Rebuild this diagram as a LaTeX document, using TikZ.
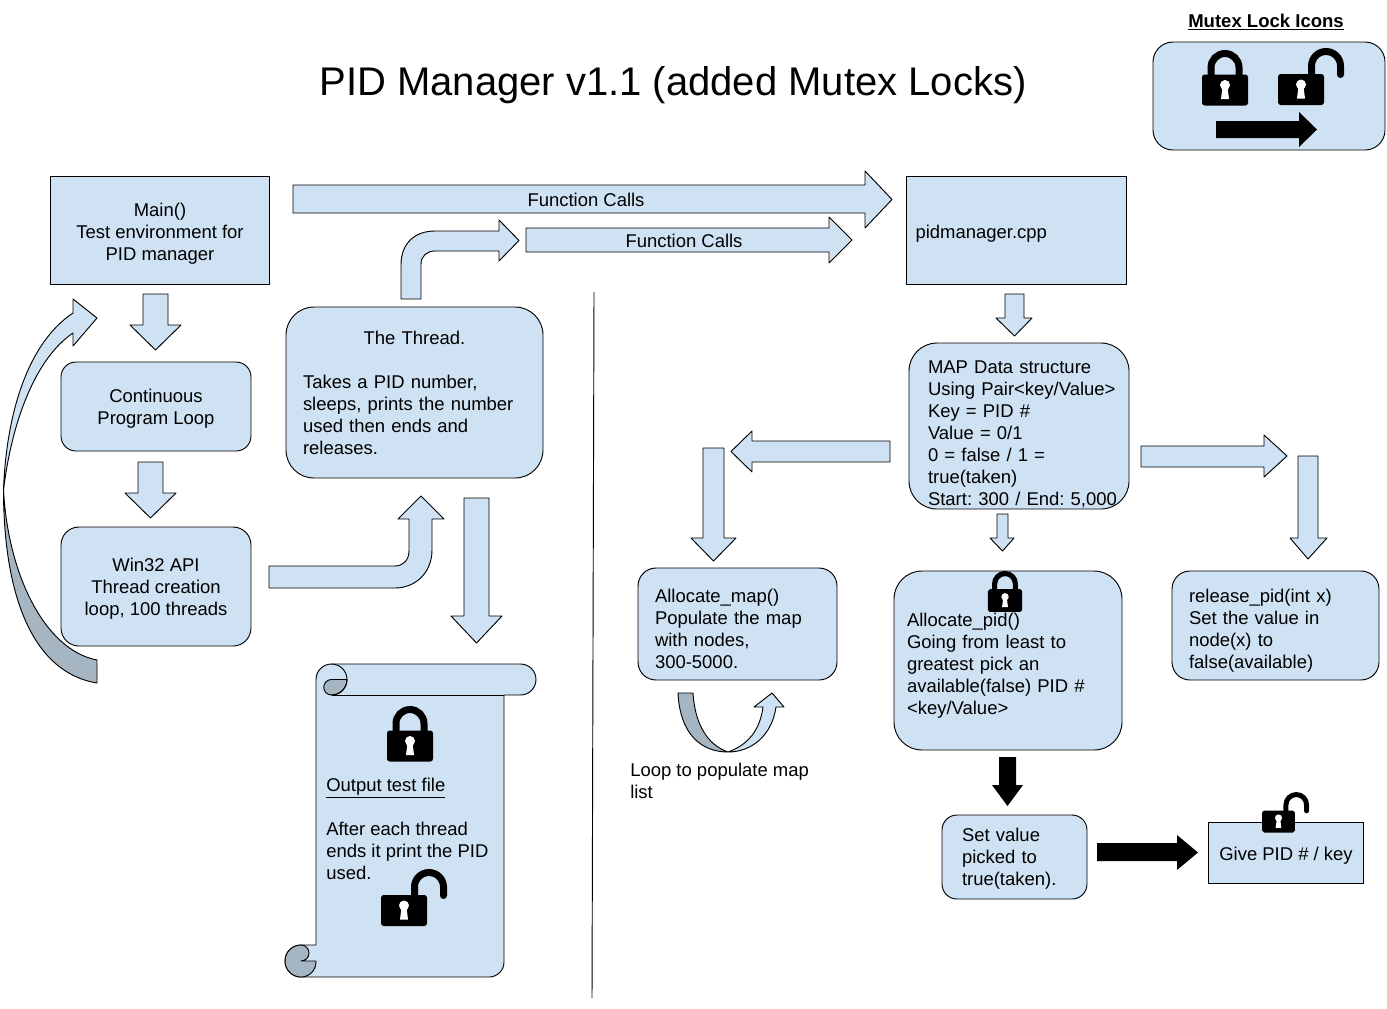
\documentclass[tikz,border=0pt]{standalone}
\usepackage{fontspec}
\setmainfont{Liberation Sans}
\frenchspacing
\definecolor{boxblue}{HTML}{CFE2F3}
\definecolor{darkblue}{HTML}{A6B5C2}
\newcommand{\lockkey}{%
  \fill[white] (0,-5) circle (5);
  \fill[white] (-2.5,-3) -- (2.5,-3) -- (4,9) -- (-4,9) -- cycle;}
\newcommand{\closedlock}[3]{%
 \begin{scope}[shift={(#1,#2)},scale=#3]
  \draw[black,line width={#3*5.25pt}] (-14,-12) -- (-14,-22.5) arc (180:360:14) -- (14,-12);
  \fill[black,rounded corners={#3*2pt}] (-23,-15.5) rectangle (23,15.5);
  \lockkey
 \end{scope}}
\newcommand{\openlock}[3]{%
 \begin{scope}[shift={(#1,#2)},scale=#3]
  \draw[black,line width={#3*5.25pt},line cap=round] (10.5,-10) -- (10.5,-23.5) arc (180:360:14.5) -- (39.5,-15);
  \fill[black,rounded corners={#3*2pt}] (-23,-15.5) rectangle (23,15.5);
  \lockkey
 \end{scope}}
\tikzset{
  x=0.75pt,y=-0.75pt,
  every node/.style={font=\fontsize{13.85}{16.5}\selectfont,text=black,inner sep=0pt},
  box/.style n args={2}{draw=black,fill=boxblue,line width=0.7pt,minimum width={#1*0.75pt},minimum height={#2*0.75pt}},
  rbox/.style n args={3}{box={#1}{#2},rounded corners={#3*0.75pt}},
  shape line/.style={draw=black,line width=0.7pt,line join=round},
  blockarrow/.style={shape line,fill=boxblue},
  blackarrow/.style={fill=black},
  darkshape/.style={shape line,fill=darkblue},
  plain/.style={align=left},
}
\newcommand{\up}[1]{\rule{0pt}{#1pt}}
\begin{document}
\begin{tikzpicture}
\useasboundingbox (0,0) rectangle (1387,1008);
\fill[white] (0,0) rectangle (1387,1008);

% title and legend
\node (title) at (673,85) {\fontsize{30}{36}\selectfont PID Manager v1.1 (added Mutex Locks)};
\node[font=\fontsize{13.9}{16.5}\selectfont\bfseries] (legendtitle) at (1266,22) {\underline{Mutex Lock Icons}};
\node[rbox={232}{108}{20}] (legend) at (1269,96) {};
\closedlock{1225}{90}{1}
\openlock{1301}{89.5}{1}
\fill[blackarrow] (1216,121) -- (1299,121) -- (1299,112) -- (1317,129.5) -- (1299,147) -- (1299,138) -- (1216,138) -- cycle;

% divider
\draw[black,line width=0.7pt] (594,292) -- (592,998);

% block arrows: top
\draw[blockarrow] (293,185) -- (865,185) -- (865,171) -- (892,199.5) -- (865,228) -- (865,213) -- (293,213) -- cycle;
\node (fc1) at (586,199.5) {Function Calls};
\draw[blockarrow] (526,228) -- (829,228) -- (829,217) -- (852,240) -- (829,263) -- (829,252) -- (526,252) -- cycle;
\node (fc2) at (684,240.5) {Function Calls};

% left column boxes
\node[box={219}{108},align=center] (main) at (160,230.5) {\up{14.5}Main()\\Test environment for\\PID manager};
\node[rbox={190}{89}{15},align=center] (loop) at (156,406.5) {\up{13}Continuous\\Program Loop};
\node[rbox={190}{119}{18},align=center] (win) at (156,586.5) {\up{13}Win32 API\\Thread creation\\loop, 100 threads};
\node[rbox={257}{171}{28},align=left,text width={223*0.75pt}] (thread) at (414.5,392.5) {\makebox[\linewidth][c]{The Thread.}\\\mbox{}\\Takes a PID number,\\sleeps, prints the number\\used then ends and\\releases.};

% left column arrows
\draw[blockarrow] (143,294) -- (168,294) -- (168,325) -- (181,325) -- (155.5,350) -- (130,325) -- (143,325) -- cycle;
\draw[blockarrow] (138,462) -- (163,462) -- (163,493) -- (176,493) -- (150.5,518) -- (125,493) -- (138,493) -- cycle;
\draw[blockarrow] (401,299) -- (401,265) .. controls (401,243) and (415,231) .. (435,231) -- (499,231) -- (499,220) -- (519,240.5) -- (499,261) -- (499,251) -- (435,251) .. controls (427,251) and (421,256) .. (421,264) -- (421,299) -- cycle;
\draw[blockarrow] (269,566) -- (395,566) .. controls (403,566) and (409,560) .. (409,551) -- (409,519) -- (398,519) -- (421,496) -- (444,519) -- (432,519) -- (432,550) .. controls (432,573) and (415,588) .. (395,588) -- (269,588) -- cycle;
\draw[blockarrow] (464,498) -- (489,498) -- (489,616) -- (502,616) -- (476.5,643) -- (451,616) -- (464,616) -- cycle;

% curved return arrow
\draw[blockarrow] (3.5,490) .. controls (6,420) and (25,345) .. (73,313) -- (73,299) -- (97,318) -- (73,346) -- (73,333) .. controls (36,358) and (12,420) .. (3.5,490) -- cycle;
\draw[darkshape] (3.5,490) .. controls (3.5,590) and (30,672) .. (97,683) -- (97,660) .. controls (45,650) and (8,575) .. (3.5,490) -- cycle;

% scroll
\draw[blockarrow] (316,679.5) arc (180:270:15.5) -- (520.5,664) arc (270:450:15.5) -- (504,695) -- (504,962) arc (0:90:15) -- (301,977) arc (90:270:16) -- (316,945) -- cycle;
\draw[shape line] (504,695) -- (331.5,695);
\draw[darkshape] (347,679.5) -- (331.5,679.5) arc (270:90:7.75) -- (331.5,695) arc (90:0:15.5) -- cycle;
\draw[shape line] (331.5,664) arc (270:450:15.5);
\draw[darkshape] (301,945) arc (270:90:16) arc (90:0:15) -- (316,961) -- (301,961) arc (90:-90:8) -- cycle;
\node[plain,anchor=west] (output) at (326,829) {\underline{Output test file}\\\mbox{}\\After each thread\\ends it print the PID\\used.};
\closedlock{410}{746}{1}
\openlock{404}{910.5}{1}

% right side boxes
\node[box={220}{108},align=left,text width={202*0.75pt}] (pid) at (1016.5,230.5) {\up{14.5}pidmanager.cpp};
\node[rbox={220}{166}{28},align=left,text width={182*0.75pt}] (map) at (1019,426) {\up{22}MAP Data structure\\\mbox{Using Pair<key/Value>}\\Key = PID \#\\Value = 0/1\\0 = false / 1 =\\true(taken)\\\mbox{Start: 300 / End: 5,000}};
\node[rbox={199}{112}{18},align=left,text width={165*0.75pt}] (amap) at (737.5,624) {\up{17.5}Allocate\_map()\\Populate the map\\with nodes,\\300-5000.};
\node[rbox={228}{179}{28},align=left,text width={202*0.75pt}] (apid) at (1008,660.5) {\up{17.5}Allocate\_pid()\\Going from least to\\greatest pick an\\available(false) PID \#\\<key/Value>};
\node[rbox={207}{109}{18},align=left,text width={173*0.75pt}] (rel) at (1275.5,625.5) {\up{17.5}release\_pid(int x)\\Set the value in\\node(x) to\\false(available)};
\node[rbox={145}{84}{15},align=left,text width={105*0.75pt}] (setv) at (1014.5,857) {\up{13}Set value\\picked to\\true(taken).};
\node[box={155}{61},align=center] (give) at (1286,852.5) {\up{14.5}Give PID \# / key};
\node[plain,anchor=west] (looplabel) at (630,781) {Loop to populate map\\list};

% right side arrows
\draw[blockarrow] (1005,294) -- (1024,294) -- (1024,318) -- (1032,318) -- (1014.5,336) -- (996,318) -- (1005,318) -- cycle;
\draw[blockarrow] (890,441) -- (752,441) -- (752,431) -- (731,451.5) -- (752,472) -- (752,462) -- (890,462) -- cycle;
\draw[blockarrow] (703,448) -- (724,448) -- (724,538) -- (736,538) -- (713.5,561) -- (691,538) -- (703,538) -- cycle;
\draw[blockarrow] (1141,446) -- (1264,446) -- (1264,435) -- (1287,456) -- (1264,477) -- (1264,467) -- (1141,467) -- cycle;
\draw[blockarrow] (1298,456) -- (1318,456) -- (1318,538) -- (1327,538) -- (1308,559) -- (1290,538) -- (1298,538) -- cycle;
\draw[blockarrow] (997,514) -- (1008,514) -- (1008,538) -- (1014,538) -- (1002.5,551) -- (990,538) -- (997,538) -- cycle;
\fill[blackarrow] (999,757) -- (1016,757) -- (1016,785) -- (1023,785) -- (1007.5,806) -- (992,785) -- (999,785) -- cycle;
\fill[blackarrow] (1097,843) -- (1177,843) -- (1177,835) -- (1198,852.5) -- (1177,870) -- (1177,861) -- (1097,861) -- cycle;

% loop arrow
\draw[darkshape] (678,693) -- (693,693) .. controls (695,725) and (708,745) .. (728,752) .. controls (702,752) and (680,735) .. (678,693) -- cycle;
\draw[blockarrow] (728,752) .. controls (748,745) and (760,730) .. (763,707) -- (754,707) -- (772,693) -- (784,707) -- (776,707) .. controls (772,735) and (752,752) .. (728,752) -- cycle;

% small locks
\closedlock{1005}{600.5}{0.74}
\openlock{1278.5}{821.5}{0.71}
\end{tikzpicture}
\end{document}
